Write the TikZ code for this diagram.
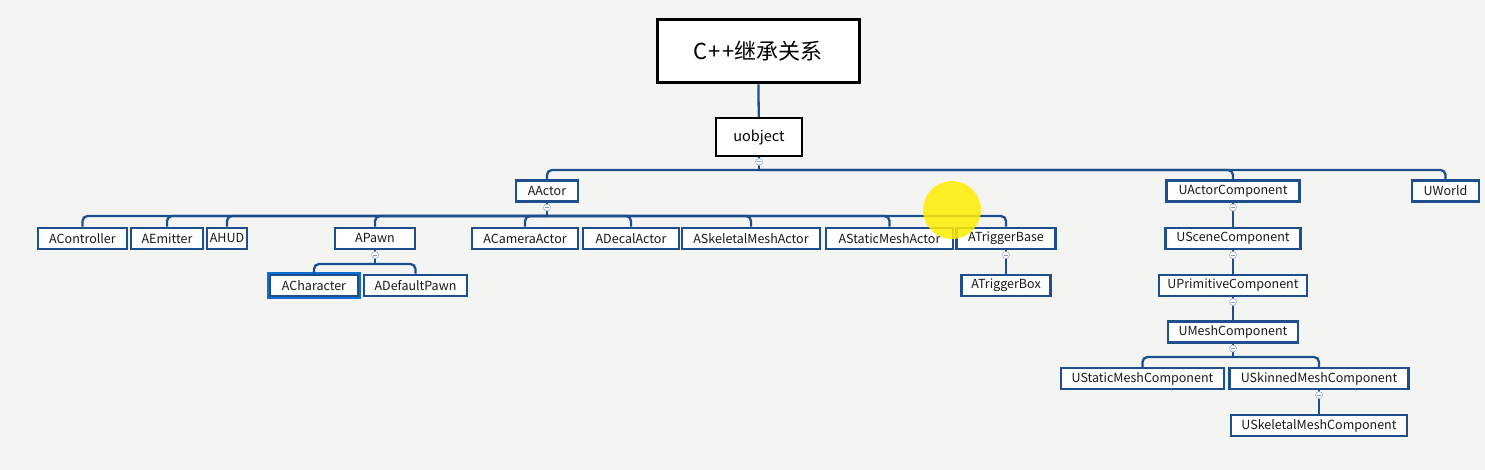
\documentclass[tikz,border=0pt]{standalone}
\usepackage{fontspec}
\setmainfont{Noto Sans CJK SC}
\usepackage{tikz}
\usepackage{xcolor}
\usetikzlibrary{calc}

\definecolor{treeblue}{HTML}{1D4F8E}
\definecolor{paper}{HTML}{F4F4F3}

\begin{document}
\begin{tikzpicture}[x=1pt, y=-1pt,
  cls/.style={draw=treeblue, line width=2.5pt, fill=white, minimum height=21pt, inner xsep=2pt, inner ysep=0pt, font=\fontsize{12.5}{14}\selectfont, text=black!90},
  picked/.style={cls, preaction={draw=treeblue!55!cyan!70!blue, line width=6pt, rounded corners=2pt}},
  link/.style={draw=treeblue, line width=2.3pt, rounded corners=5pt},
  fold/.style={circle, draw=treeblue!45, fill=white, line width=.6pt, inner sep=0pt, minimum size=7pt,
    path picture={\draw[treeblue!55, line width=.6pt] ([xshift=-2pt]path picture bounding box.center) -- ([xshift=2pt]path picture bounding box.center);}}
]
\fill[paper] (0,0) rectangle (1485,470);

\node[draw=black, line width=3pt, fill=white, minimum width=202pt, minimum height=63pt, font=\fontsize{22}{26}\selectfont] (title) at (758,51.5) {C\kern1pt+\kern1pt+继承关系};
\node[draw=black, line width=2pt, fill=white, minimum width=86pt, minimum height=38pt, font=\fontsize{14.5}{16}\selectfont] (uobject) at (759,137) {uobject};

% first level
\node[cls, minimum width=62pt] (aactor) at (547,191) {AActor};
\node[cls, minimum width=133pt] (uactorcomp) at (1233,191) {UActorComponent};
\node[cls, minimum width=67pt] (uworld) at (1445.5,191) {UWorld};

% actors
\node[cls, minimum width=89pt] (acontroller) at (82.5,238.5) {AController};
\node[cls, minimum width=72pt] (aemitter) at (167,238.5) {AEmitter};
\node[cls, minimum width=40pt] (ahud) at (227,238.5) {AHUD};
\node[cls, minimum width=80pt] (apawn) at (375,238.5) {APawn};
\node[cls, minimum width=106pt] (acamera) at (525,238.5) {ACameraActor};
\node[cls, minimum width=96pt] (adecal) at (631,238.5) {ADecalActor};
\node[cls, minimum width=138pt] (askeletal) at (751,238.5) {ASkeletalMeshActor};
\node[cls, minimum width=127pt] (astatic) at (889.5,238.5) {AStaticMeshActor};
\node[cls, minimum width=99pt] (atrigbase) at (1006,238.5) {ATriggerBase};

\node[picked, minimum width=88pt] (acharacter) at (314,285.5) {ACharacter};
\node[cls, minimum width=103pt] (adefault) at (415.5,285.5) {ADefaultPawn};
\node[cls, minimum width=89pt] (atrigbox) at (1006,285.5) {ATriggerBox};

% components
\node[cls, minimum width=135pt] (uscene) at (1233,238.5) {USceneComponent};
\node[cls, minimum width=148pt] (uprim) at (1233,285.5) {UPrimitiveComponent};
\node[cls, minimum width=130pt] (umesh) at (1233,332) {UMeshComponent};
\node[cls, minimum width=163pt] (ustaticmc) at (1142.5,378.5) {UStaticMeshComponent};
\node[cls, minimum width=179pt] (uskinned) at (1319,378.5) {USkinnedMeshComponent};
\node[cls, minimum width=176pt] (uskeletal) at (1319,425.5) {USkeletalMeshComponent};

% buses
\coordinate (busO) at (759,170);
\coordinate (busA) at (547,216);
\coordinate (busP) at (375,264);
\coordinate (busM) at (1233,357);

\draw[link] (title) -- (uobject);
\draw[link] (uobject.south) -- (busO);
\foreach \c in {aactor,uactorcomp,uworld}
  \draw[link] (busO) -| (\c.north);
\draw[link] (aactor.south) -- (busA);
\foreach \c in {acontroller,aemitter,ahud,apawn,acamera,adecal,askeletal,astatic,atrigbase}
  \draw[link] (busA) -| (\c.north);
\draw[link] (apawn.south) -- (busP);
\foreach \c in {acharacter,adefault}
  \draw[link] (busP) -| (\c.north);
\draw[link] (atrigbase) -- (atrigbox);
\draw[link] (uactorcomp) -- (uscene);
\draw[link] (uscene) -- (uprim);
\draw[link] (uprim) -- (umesh);
\draw[link] (umesh.south) -- (busM);
\foreach \c in {ustaticmc,uskinned}
  \draw[link] (busM) -| (\c.north);
\draw[link] (uskinned) -- (uskeletal);

% fold markers
\foreach \p in {uobject,aactor,apawn,atrigbase,uactorcomp,uscene,uprim,umesh,uskinned}
  \node[fold, anchor=north] (fold-\p) at ([yshift=-1pt]\p.south) {};

% cursor highlight
\fill[yellow!95!orange, opacity=.85] (952,210) circle (29pt);
\end{tikzpicture}
\end{document}
